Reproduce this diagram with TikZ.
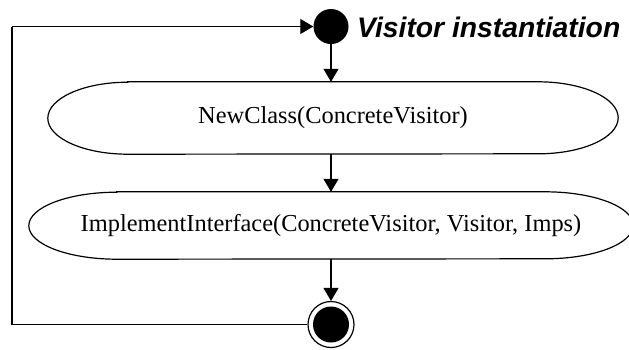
\documentclass[tikz,border=0pt]{standalone}
\usepackage{fontspec}
\setmainfont{Liberation Serif}
\newfontfamily\labelfont{Liberation Sans}
\usetikzlibrary{arrows.meta}

\tikzset{
  flow/.style={line width=1.2pt, -{Triangle[length=13pt,width=15pt]}},
  wire/.style={line width=1.2pt},
  actiontext/.style={inner sep=0pt, font=\fontsize{24.4}{28}\selectfont},
  initialstate/.style={circle, fill=black, minimum size=35pt, inner sep=0pt},
  finalring/.style={circle, draw, line width=1.2pt, minimum size=46pt, inner sep=0pt},
  finaldot/.style={circle, fill=black, minimum size=36pt, inner sep=0pt},
  outline/.style={line width=1.2pt}
}

% activity state: straight top and bottom with half-ellipse ends
\newcommand{\activityoutline}[3]{% node, cap x radius, cap y radius
  \draw[outline] ([xshift=#2]#1.north west) -- ([xshift=-#2]#1.north east)
    arc[start angle=90, end angle=-90, x radius=#2, y radius=#3]
    -- ([xshift=#2]#1.south west)
    arc[start angle=270, end angle=90, x radius=#2, y radius=#3] -- cycle;}

\begin{document}
\begin{tikzpicture}[x=1pt, y=-1pt]
  \useasboundingbox (0,0) rectangle (629,349);

  % initial and final states
  \node[initialstate] (start) at (331,26.5) {};
  \node[finalring] (final) at (331,324.5) {};
  \node[finaldot] (finaldotnode) at (final.center) {};

  % title
  \node[anchor=base west, inner sep=0pt,
        font=\labelfont\fontsize{28.3}{30}\selectfont\bfseries\itshape]
        (title) at (357,37.5) {Visitor instantiation};

  % action states
  \node[actiontext, minimum width=570pt, minimum height=72pt] (newclass)
       at (333,118) {NewClass(ConcreteVisitor)};
  \activityoutline{newclass}{80pt}{36pt}

  \node[actiontext, minimum width=604pt, minimum height=67pt] (implement)
       at (331,225.5) {ImplementInterface(ConcreteVisitor, Visitor, Imps)};
  \activityoutline{implement}{88pt}{33.5pt}

  % transitions
  \draw[flow] (start.south) -- (start.south |- newclass.north);
  \draw[flow] (start.south |- newclass.south) -- (start.south |- implement.north);
  \draw[flow] (start.south |- implement.south) -- (final.north);

  % loop back from the final state to the initial state
  \coordinate (loopbottom) at (12,324.5);
  \coordinate (looptop) at (12,26.5);
  \draw[wire] (final.west) -- (loopbottom) -- (looptop);
  \draw[flow] (looptop) -- (start.west);
\end{tikzpicture}
\end{document}
